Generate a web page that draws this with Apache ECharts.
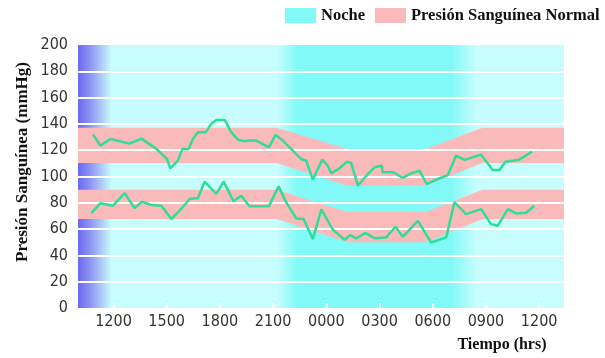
<!DOCTYPE html>
<html><head><meta charset="utf-8">
<script src="https://cdn.jsdelivr.net/npm/echarts@6/dist/echarts.min.js"></script>
<style>html,body{margin:0;padding:0;background:#fff}#c{width:605px;height:358px}</style>
</head><body><div id="c"></div>
<script>
// ---- data (hours counted from midnight of day 1; 24 = 0000 next day) ----
const tickHours = [12, 15, 18, 21, 24, 27, 30, 33, 36];
const tickLabels = ['1200', '1500', '1800', '2100', '0000', '0300', '0600', '0900', '1200'];

const sysHours = [10.85,11.26,11.84,12.35,12.91,13.57,14.42,15.02,15.2,15.63,15.88,16.24,16.48,16.76,17.2,17.51,17.8,18.27,18.64,19.02,19.39,19.73,20.05,20.39,20.76,21.14,21.55,22.11,22.58,22.87,23.24,23.77,24.08,24.27,24.74,25.16,25.4,25.78,26.34,26.72,27.13,27.18,27.79,28.31,28.78,29.25,29.66,30.28,30.85,31.32,31.79,32.73,33.38,33.76,34.1,34.88,35.6];
const sysVals = [132,123.5,128.6,126.8,125,128.8,121,113.3,106.2,112,121,121,128.6,133.6,133.6,140,143,143,133.6,128,126.8,127.6,127.3,124.8,122.2,131.6,127.3,119.7,113.3,112,97.6,112.8,108.3,102.4,106.2,111.3,110.3,93,101.9,107,108.3,103.2,103.2,98.9,102.4,104.4,94.3,98.1,101.1,115.9,112.6,116.6,105,105,111.3,112.8,118.9];

const diaHours = [10.75,11.26,11.97,12.63,13.19,13.61,14.13,14.7,15.26,15.82,16.29,16.76,17.14,17.8,18.21,18.77,19.2,19.67,20.24,20.76,21.31,21.74,22.3,22.72,23.24,23.72,24.37,25.03,25.35,25.69,26.21,26.72,27.37,27.9,28.31,29.16,29.91,30.76,31.22,31.88,32.73,33.29,33.66,34.23,34.7,35.26,35.73];
const diaVals = [72.2,79.6,77.8,87.4,76,80.8,78.3,77.8,67.6,75.3,82.9,83.7,96.1,86.7,96.1,81.1,85.4,77.3,77.3,77.3,92.5,80.3,68.1,67.6,52.4,75,59.5,51.9,55.4,52.9,57,53.1,53.7,61.8,54.1,66.3,49.8,53.7,80.3,71.4,75.2,63.8,62.5,75.2,71.9,72.4,77.8];

// normal-range bands
const bandHours = [10, 21.2, 25.2, 29.6, 32.8, 37.4];
const sysLow  = [110.3, 110.3, 93, 93, 110.3, 110.3];
const sysHigh = [137, 137, 121, 121, 137, 137];
const diaLow  = [67.6, 67.6, 50, 50, 67.6, 67.6];
const diaHigh = [90, 90, 73, 73, 90, 90];

// shaded time spans (hours)
const morningSpan = [10, 11.9];
const nightSpan = [21.2, 32.5];
const nightCore = [22.4, 31.0];

const seriesNames = ['Noche', 'Presión Sanguínea Normal'];
const yTitle = 'Presión Sanguínea (mmHg)';
const xTitle = 'Tiempo (hrs)';

// ---- chart ----
const pair = (xs, ys) => xs.map((x, i) => [x, ys[i]]);
const SERIF = "'Liberation Serif','Times New Roman',serif";
const NARROW = "'Liberation Sans Narrow','Arial Narrow','DejaVu Sans Condensed',sans-serif";
const LIGHT = '#c8fdfd', DARK = '#80f9f7', PINK = '#fbbaba', GREEN = '#2fdd98';

const nLen = nightSpan[1] - nightSpan[0];
const gradNight = {type: 'linear', x: 0, y: 0, x2: 1, y2: 0, colorStops: [
  {offset: 0, color: LIGHT},
  {offset: (nightCore[0] - nightSpan[0]) / nLen, color: DARK},
  {offset: (nightCore[1] - nightSpan[0]) / nLen, color: DARK},
  {offset: 1, color: LIGHT}]};
const gradBlue = {type: 'linear', x: 0, y: 0, x2: 1, y2: 0, colorStops: [
  {offset: 0, color: '#6a6af0'},
  {offset: 0.35, color: '#8c92f3'},
  {offset: 1, color: LIGHT}]};

// a band polygon drawn through the axes' own scales
const bandSeries = (lo, hi, name) => ({
  name: name, type: 'custom', z: 2, silent: true, itemStyle: {color: PINK},
  data: [[bandHours[0], lo[0]]],
  renderItem: (params, api) => {
    const upper = bandHours.map((h, i) => api.coord([h, hi[i]]));
    const lower = bandHours.map((h, i) => api.coord([h, lo[i]])).reverse();
    return {type: 'polygon', shape: {points: upper.concat(lower)}, style: {fill: PINK}};
  }
});

const chart = echarts.init(document.getElementById('c'));
chart.setOption({
  animation: false,
  grid: {left: 78, right: 41, top: 45, bottom: 50, show: true, borderWidth: 0, backgroundColor: LIGHT},
  legend: {left: 285, top: 7, width: 360, padding: 0, itemWidth: 31, itemHeight: 15, itemGap: 10, icon: 'rect', selectedMode: false,
    textStyle: {fontFamily: SERIF, fontWeight: 'bold', fontSize: 16.5, color: '#111'},
    data: [{name: seriesNames[0], itemStyle: {color: DARK, borderWidth: 0}},
           {name: seriesNames[1], itemStyle: {color: PINK, borderWidth: 0}}]},
  xAxis: {type: 'value', min: 10, max: 37.4, z: 3,
    axisLine: {show: false}, splitLine: {show: false},
    axisTick: {show: true, inside: true, length: 5, customValues: tickHours, lineStyle: {color: '#fff', width: 2}},
    axisLabel: {customValues: tickHours, formatter: v => tickLabels[tickHours.indexOf(v)], margin: 6,
      fontFamily: NARROW, fontSize: 16, color: '#333'}},
  yAxis: {type: 'value', min: 0, max: 200, interval: 20, z: 3,
    axisLine: {show: false}, axisTick: {show: false},
    splitLine: {show: true, showMinLine: false, showMaxLine: false, lineStyle: {color: '#fff', width: 2}},
    axisLabel: {margin: 10, fontFamily: NARROW, fontSize: 16, color: '#333'}},
  graphic: [
    {type: 'text', x: 23, y: 162, rotation: Math.PI / 2,
     style: {text: yTitle, fontFamily: SERIF, fontWeight: 'bold', fontSize: 17, fill: '#111', align: 'center', verticalAlign: 'middle'}},
    {type: 'text', x: 502, y: 345,
     style: {text: xTitle, fontFamily: SERIF, fontWeight: 'bold', fontSize: 16, fill: '#111', align: 'center', verticalAlign: 'middle'}}
  ],
  series: [
    {name: seriesNames[0], type: 'line', data: [], z: 1, silent: true, itemStyle: {color: DARK},
     markArea: {silent: true, data: [
       [{xAxis: morningSpan[0], itemStyle: {color: gradBlue}}, {xAxis: morningSpan[1]}],
       [{xAxis: nightSpan[0], itemStyle: {color: gradNight}}, {xAxis: nightSpan[1]}]
     ]}},
    bandSeries(sysLow, sysHigh, seriesNames[1]),
    bandSeries(diaLow, diaHigh, seriesNames[1]),
    {name: 'Sistólica', type: 'line', data: pair(sysHours, sysVals), symbol: 'none', z: 4,
     lineStyle: {color: GREEN, width: 2.5}, itemStyle: {color: GREEN}},
    {name: 'Diastólica', type: 'line', data: pair(diaHours, diaVals), symbol: 'none', z: 4,
     lineStyle: {color: GREEN, width: 2.5}, itemStyle: {color: GREEN}}
  ]
});
</script>
</body></html>
